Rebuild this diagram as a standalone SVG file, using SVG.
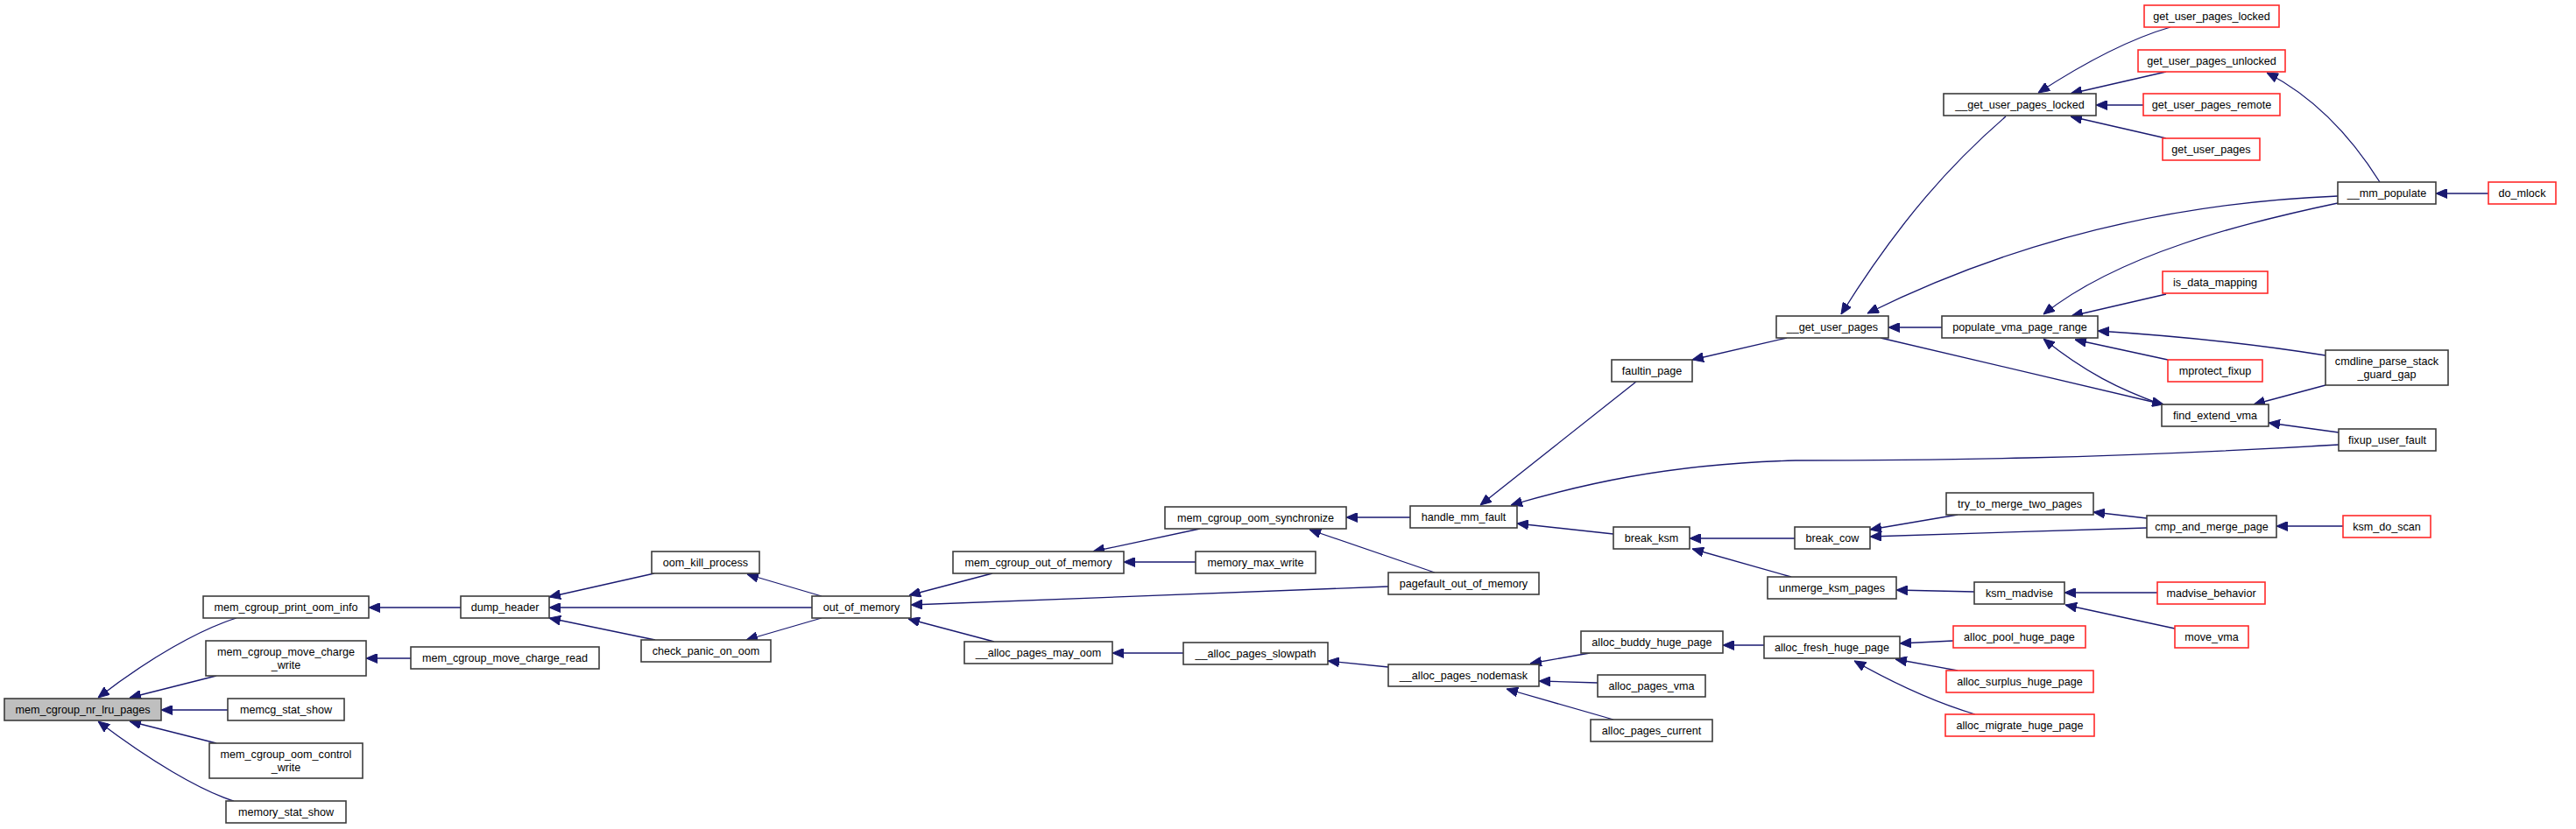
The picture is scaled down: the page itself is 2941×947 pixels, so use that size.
<svg xmlns="http://www.w3.org/2000/svg" width="2941" height="947" viewBox="0 0 2941 947">
<style>
.n rect{fill:#fff;stroke:#3c3c3c;stroke-width:1.6}
.r rect{fill:#fff;stroke:#ff2a2a;stroke-width:1.6}
.root rect{fill:#bfbfbf;stroke:#3c3c3c;stroke-width:1.6}
text{font-family:"Liberation Sans",Arial,sans-serif;font-size:12.6px;text-anchor:middle;fill:#000}
#edges path{fill:none;stroke:#191970;stroke-width:1.3;marker-end:url(#ah)}
</style>
<defs>
<marker id="ah" markerWidth="13" markerHeight="11" refX="13" refY="5.5" orient="auto" markerUnits="userSpaceOnUse">
<path d="M0,0 L13,5.5 L0,11 Z" fill="#191970" stroke="#191970" stroke-width="1"/>
</marker>
</defs>
<rect width="2941" height="947" fill="#fff"/>
<g id="edges">
<path d="M270,706 C228,719 170,752 112,797"/>
<path d="M247,772 L148,797"/>
<path d="M260,811 L184,811"/>
<path d="M247,849 L148,824"/>
<path d="M267,915 C228,903 170,868 112,824"/>
<path d="M526,694 L421,694"/>
<path d="M469,752 L418,752"/>
<path d="M747,655 L627,682"/>
<path d="M927,694 L627,694"/>
<path d="M748,731 L627,706"/>
<path d="M938,681 L853,656"/>
<path d="M938,706 L852,731"/>
<path d="M1133,655 L1038,680"/>
<path d="M1585,670 L1040,691"/>
<path d="M1135,733 L1037,707"/>
<path d="M1370,604 L1248,630"/>
<path d="M1365,642 L1283,642"/>
<path d="M1351,746 L1270,746"/>
<path d="M1610,591 L1537,591"/>
<path d="M1638,654 L1495,605"/>
<path d="M1585,762 L1516,755"/>
<path d="M1868,436 L1690,577"/>
<path d="M2670,508 C2400,524 2200,526 2050,526 C1900,530 1800,555 1725,577"/>
<path d="M1842,610 L1732,598"/>
<path d="M1815,746 L1747,758"/>
<path d="M1824,780 L1757,778"/>
<path d="M1842,822 L1720,787"/>
<path d="M2040,386 L1932,411"/>
<path d="M2049,615 L1929,615"/>
<path d="M2045,659 L1932,627"/>
<path d="M2014,737 L1967,737"/>
<path d="M2290,133 C2230,185 2170,250 2102,359"/>
<path d="M2669,224 C2520,230 2330,260 2132,358"/>
<path d="M2217,374 L2156,374"/>
<path d="M2147,386 L2470,462"/>
<path d="M2468,462 C2420,445 2380,425 2333,387"/>
<path d="M2473,336 L2365,361"/>
<path d="M2669,232 C2560,255 2420,290 2333,359"/>
<path d="M2655,406 C2580,394 2490,384 2395,378"/>
<path d="M2475,411 L2369,388"/>
<path d="M2655,440 L2573,462"/>
<path d="M2670,494 L2590,483"/>
<path d="M2478,31 C2440,42 2390,65 2327,106"/>
<path d="M2473,82 L2364,107"/>
<path d="M2447,120 L2393,120"/>
<path d="M2473,158 L2364,133"/>
<path d="M2717,208 C2690,165 2650,115 2588,83"/>
<path d="M2841,221 L2781,221"/>
<path d="M2451,592 L2390,585"/>
<path d="M2451,603 L2135,613"/>
<path d="M2235,588 L2135,605"/>
<path d="M2675,601 L2599,601"/>
<path d="M2254,676 L2165,674"/>
<path d="M2463,677 L2357,677"/>
<path d="M2483,718 L2358,691"/>
<path d="M2230,732 L2169,735"/>
<path d="M2235,766 L2164,753"/>
<path d="M2255,816 C2215,804 2170,785 2117,755"/>
</g>
<g id="n0" class="root"><rect x="5" y="798" width="179" height="25"/><text x="94.5" y="814.5">mem_cgroup_nr_lru_pages</text></g>
<g id="n1" class="n"><rect x="232" y="681" width="189" height="25"/><text x="326.5" y="697.5">mem_cgroup_print_oom_info</text></g>
<g id="n2" class="n"><rect x="235" y="732" width="183" height="40"/><text x="326.5" y="748.5">mem_cgroup_move_charge</text><text x="326.5" y="763.5">_write</text></g>
<g id="n3" class="n"><rect x="260" y="798" width="133" height="25"/><text x="326.5" y="814.5">memcg_stat_show</text></g>
<g id="n4" class="n"><rect x="239" y="849" width="175" height="40"/><text x="326.5" y="865.5">mem_cgroup_oom_control</text><text x="326.5" y="880.5">_write</text></g>
<g id="n5" class="n"><rect x="258" y="915" width="137" height="25"/><text x="326.5" y="931.5">memory_stat_show</text></g>
<g id="n6" class="n"><rect x="526" y="681" width="101" height="25"/><text x="576.5" y="697.5">dump_header</text></g>
<g id="n7" class="n"><rect x="469" y="739" width="215" height="25"/><text x="576.5" y="755.5">mem_cgroup_move_charge_read</text></g>
<g id="n8" class="n"><rect x="744" y="630" width="123" height="25"/><text x="805.5" y="646.5">oom_kill_process</text></g>
<g id="n9" class="n"><rect x="732" y="731" width="148" height="25"/><text x="806" y="747.5">check_panic_on_oom</text></g>
<g id="n10" class="n"><rect x="927" y="681" width="113" height="25"/><text x="983.5" y="697.5">out_of_memory</text></g>
<g id="n11" class="n"><rect x="1088" y="630" width="195" height="25"/><text x="1185.5" y="646.5">mem_cgroup_out_of_memory</text></g>
<g id="n12" class="n"><rect x="1101" y="733" width="169" height="25"/><text x="1185.5" y="749.5">__alloc_pages_may_oom</text></g>
<g id="n13" class="n"><rect x="1330" y="579" width="207" height="25"/><text x="1433.5" y="595.5">mem_cgroup_oom_synchronize</text></g>
<g id="n14" class="n"><rect x="1365" y="630" width="137" height="25"/><text x="1433.5" y="646.5">memory_max_write</text></g>
<g id="n15" class="n"><rect x="1585" y="654" width="172" height="25"/><text x="1671" y="670.5">pagefault_out_of_memory</text></g>
<g id="n16" class="n"><rect x="1351" y="734" width="165" height="25"/><text x="1433.5" y="750.5">__alloc_pages_slowpath</text></g>
<g id="n17" class="n"><rect x="1610" y="578" width="122" height="25"/><text x="1671" y="594.5">handle_mm_fault</text></g>
<g id="n18" class="n"><rect x="1585" y="759" width="172" height="25"/><text x="1671" y="775.5">__alloc_pages_nodemask</text></g>
<g id="n19" class="n"><rect x="1840" y="411" width="92" height="25"/><text x="1886" y="427.5">faultin_page</text></g>
<g id="n20" class="n"><rect x="1842" y="602" width="87" height="25"/><text x="1885.5" y="618.5">break_ksm</text></g>
<g id="n21" class="n"><rect x="1805" y="721" width="162" height="25"/><text x="1886" y="737.5">alloc_buddy_huge_page</text></g>
<g id="n22" class="n"><rect x="1824" y="771" width="123" height="25"/><text x="1885.5" y="787.5">alloc_pages_vma</text></g>
<g id="n23" class="n"><rect x="1816" y="822" width="139" height="25"/><text x="1885.5" y="838.5">alloc_pages_current</text></g>
<g id="n24" class="n"><rect x="2028" y="361" width="128" height="25"/><text x="2092" y="377.5">__get_user_pages</text></g>
<g id="n25" class="n"><rect x="2049" y="602" width="86" height="25"/><text x="2092" y="618.5">break_cow</text></g>
<g id="n26" class="n"><rect x="2018" y="659" width="147" height="25"/><text x="2091.5" y="675.5">unmerge_ksm_pages</text></g>
<g id="n27" class="n"><rect x="2014" y="727" width="155" height="25"/><text x="2091.5" y="743.5">alloc_fresh_huge_page</text></g>
<g id="n28" class="n"><rect x="2219" y="107" width="174" height="25"/><text x="2306" y="123.5">__get_user_pages_locked</text></g>
<g id="n29" class="n"><rect x="2217" y="361" width="178" height="25"/><text x="2306" y="377.5">populate_vma_page_range</text></g>
<g id="n30" class="n"><rect x="2468" y="462" width="122" height="25"/><text x="2529" y="478.5">find_extend_vma</text></g>
<g id="n31" class="n"><rect x="2222" y="563" width="168" height="25"/><text x="2306" y="579.5">try_to_merge_two_pages</text></g>
<g id="n32" class="n"><rect x="2254" y="665" width="103" height="25"/><text x="2305.5" y="681.5">ksm_madvise</text></g>
<g id="n33" class="r"><rect x="2230" y="715" width="151" height="25"/><text x="2305.5" y="731.5">alloc_pool_huge_page</text></g>
<g id="n34" class="r"><rect x="2222" y="766" width="168" height="25"/><text x="2306" y="782.5">alloc_surplus_huge_page</text></g>
<g id="n35" class="r"><rect x="2221" y="816" width="170" height="25"/><text x="2306" y="832.5">alloc_migrate_huge_page</text></g>
<g id="n36" class="r"><rect x="2448" y="6" width="154" height="25"/><text x="2525" y="22.5">get_user_pages_locked</text></g>
<g id="n37" class="r"><rect x="2441" y="57" width="168" height="25"/><text x="2525" y="73.5">get_user_pages_unlocked</text></g>
<g id="n38" class="r"><rect x="2447" y="107" width="156" height="25"/><text x="2525" y="123.5">get_user_pages_remote</text></g>
<g id="n39" class="r"><rect x="2469" y="158" width="111" height="25"/><text x="2524.5" y="174.5">get_user_pages</text></g>
<g id="n40" class="n"><rect x="2669" y="208" width="112" height="25"/><text x="2725" y="224.5">__mm_populate</text></g>
<g id="n41" class="r"><rect x="2469" y="310" width="120" height="25"/><text x="2529" y="326.5">is_data_mapping</text></g>
<g id="n42" class="r"><rect x="2475" y="411" width="108" height="25"/><text x="2529" y="427.5">mprotect_fixup</text></g>
<g id="n43" class="n"><rect x="2655" y="400" width="140" height="40"/><text x="2725" y="416.5">cmdline_parse_stack</text><text x="2725" y="431.5">_guard_gap</text></g>
<g id="n44" class="n"><rect x="2670" y="490" width="111" height="25"/><text x="2725.5" y="506.5">fixup_user_fault</text></g>
<g id="n45" class="n"><rect x="2451" y="589" width="148" height="25"/><text x="2525" y="605.5">cmp_and_merge_page</text></g>
<g id="n46" class="r"><rect x="2463" y="665" width="123" height="25"/><text x="2524.5" y="681.5">madvise_behavior</text></g>
<g id="n47" class="r"><rect x="2483" y="715" width="84" height="25"/><text x="2525" y="731.5">move_vma</text></g>
<g id="n48" class="r"><rect x="2675" y="589" width="100" height="25"/><text x="2725" y="605.5">ksm_do_scan</text></g>
<g id="n49" class="r"><rect x="2841" y="208" width="77" height="25"/><text x="2879.5" y="224.5">do_mlock</text></g>
</svg>
